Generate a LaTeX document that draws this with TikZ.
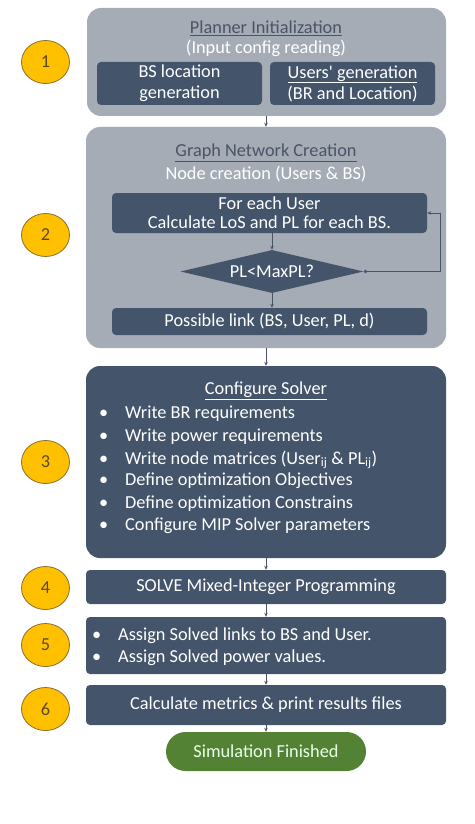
\documentclass[tikz,border=0pt]{standalone}
\usepackage{fontspec}
\setmainfont{Carlito}[Ligatures=TeXOff]
\usetikzlibrary{shapes.geometric,arrows.meta,calc}
\definecolor{lightbox}{HTML}{A6ACB6}
\definecolor{darkbox}{HTML}{44546A}
\definecolor{circfill}{HTML}{FFC000}
\definecolor{circline}{HTML}{8C6E2E}
\definecolor{greenbox}{HTML}{548235}
\definecolor{titlegray}{HTML}{4A5466}
\definecolor{arrowc}{HTML}{4A5466}
\definecolor{numc}{HTML}{5A4A20}
\tikzset{
  bigfont/.style={font=\fontsize{18.3}{21}\selectfont},
  outerbox/.style={draw=none, fill=lightbox, rounded corners=14pt, inner sep=0pt},
  darkouter/.style={draw=none, fill=darkbox, rounded corners=14pt, inner sep=0pt},
  innerbox/.style={draw=none, fill=darkbox, rounded corners=4pt, inner sep=0pt, text=white, align=center, bigfont},
  wtext/.style={text=white, inner sep=0pt, bigfont, align=center},
  ttext/.style={text=titlegray, inner sep=0pt, bigfont},
  itemtext/.style={text=white, inner sep=0pt, bigfont, anchor=base west},
  numcirc/.style={ellipse, draw=circline, line width=0.8pt, fill=circfill, minimum width=48pt, minimum height=43pt, inner sep=0pt, text=numc, bigfont},
  conn/.style={draw=arrowc, line width=0.8pt, -{Stealth[length=4pt,width=3.5pt]}},
}
\begin{document}
\begin{tikzpicture}[x=1pt,y=-1pt]
\useasboundingbox (0,0) rectangle (474,824);
\fill[white] (0,0) rectangle (474,824);

% Block 1
\node[outerbox, minimum width=359pt, minimum height=108pt] (box1) at (266.5,62) {};
\node[ttext] (t1a) at (266,28) {\underline{Planner Initialization}};
\node[wtext] (t1b) at (266,48) {(Input config reading)};
\node[innerbox, minimum width=165pt, minimum height=43pt] (b1a) at (179.5,83.5) {BS location\\generation};
\node[innerbox, minimum width=165pt, minimum height=43pt] (b1b) at (352.5,83.5) {\underline{Users' generation}\\(BR and Location)};

% Block 2
\node[outerbox, minimum width=360pt, minimum height=221pt] (box2) at (266,237.5) {};
\node[ttext] (t2a) at (266,153) {\underline{Graph Network Creation}};
\node[wtext] (t2b) at (266,174) {Node creation (Users \& BS)};
\node[innerbox, minimum width=315pt, minimum height=40pt] (foreach) at (269.5,213) {For each User\\[-2pt]Calculate LoS and PL for each BS.};
\node[diamond, shape aspect=4.26, fill=darkbox, draw=none, minimum width=183pt, minimum height=43pt, inner sep=0pt, text=white, bigfont] (dia) at (272,271.5) {PL<MaxPL?};
\node[innerbox, minimum width=315pt, minimum height=27pt] (link) at (269.5,321.5) {Possible link (BS, User, PL, d)};

% Block 3
\node[darkouter, minimum width=360pt, minimum height=192pt] (box3) at (266,462) {};
\node[wtext] (t3) at (266,391) {\underline{Configure Solver}};
\node[itemtext] (i1) at (99,418) {\makebox[26pt][l]{•}Write BR requirements};
\node[itemtext] (i2) at (99,441) {\makebox[26pt][l]{•}Write power requirements};
\node[itemtext] (i3) at (99,464) {\makebox[26pt][l]{•}Write node matrices (User\textsubscript{ij} \& PL\textsubscript{ij})};
\node[itemtext] (i4) at (99,485) {\makebox[26pt][l]{•}Define optimization Objectives};
\node[itemtext] (i5) at (99,508) {\makebox[26pt][l]{•}Define optimization Constrains};
\node[itemtext] (i6) at (99,530) {\makebox[26pt][l]{•}Configure MIP Solver parameters};

% Block 4
\node[innerbox, minimum width=360pt, minimum height=34pt] (box4) at (266,587) {SOLVE Mixed-Integer Programming};

% Block 5
\node[innerbox, minimum width=360pt, minimum height=57pt] (box5) at (266,645.5) {};
\node[itemtext] (j1) at (92,640) {\makebox[26pt][l]{•}Assign Solved links to BS and User.};
\node[itemtext] (j2) at (92,662) {\makebox[26pt][l]{•}Assign Solved power values.};

% Block 6
\node[innerbox, minimum width=360pt, minimum height=40pt] (box6) at (266,705) {Calculate metrics \& print results files};

% End
\node[draw=none, fill=greenbox, rounded corners=19.5pt, minimum width=200pt, minimum height=39pt, inner sep=0pt, text=white!92!green, bigfont] (fin) at (266,751.5) {Simulation Finished};

% Number circles
\node[numcirc] (n1) at (45.5,62) {1};
\node[numcirc] (n2) at (45.5,235) {2};
\node[numcirc] (n3) at (45.5,462) {3};
\node[numcirc] (n4) at (45.5,588) {4};
\node[numcirc] (n5) at (45.5,645) {5};
\node[numcirc] (n6) at (45.5,709) {6};

% Connectors
\draw[conn] (box1.south -| box2.north) -- (box2.north);
\draw[conn] (dia.north |- foreach.south) -- (dia.north);
\draw[conn] (dia.south) -- (dia.south |- link.north);
\coordinate (loopc) at (440,213);
\draw[draw=arrowc, line width=0.8pt, {Circle[length=3.5pt]}-{Stealth[length=4pt,width=3.5pt]}] (dia.east) -| (loopc) -- (foreach.east);
\draw[conn] (box2.south) -- (box3.north);
\draw[conn] (box3.south) -- (box4.north);
\draw[conn] (box4.south) -- (box5.north);
\draw[conn] (box5.south) -- (box6.north);
\draw[conn] (box6.south) -- (fin.north);
\end{tikzpicture}
\end{document}
